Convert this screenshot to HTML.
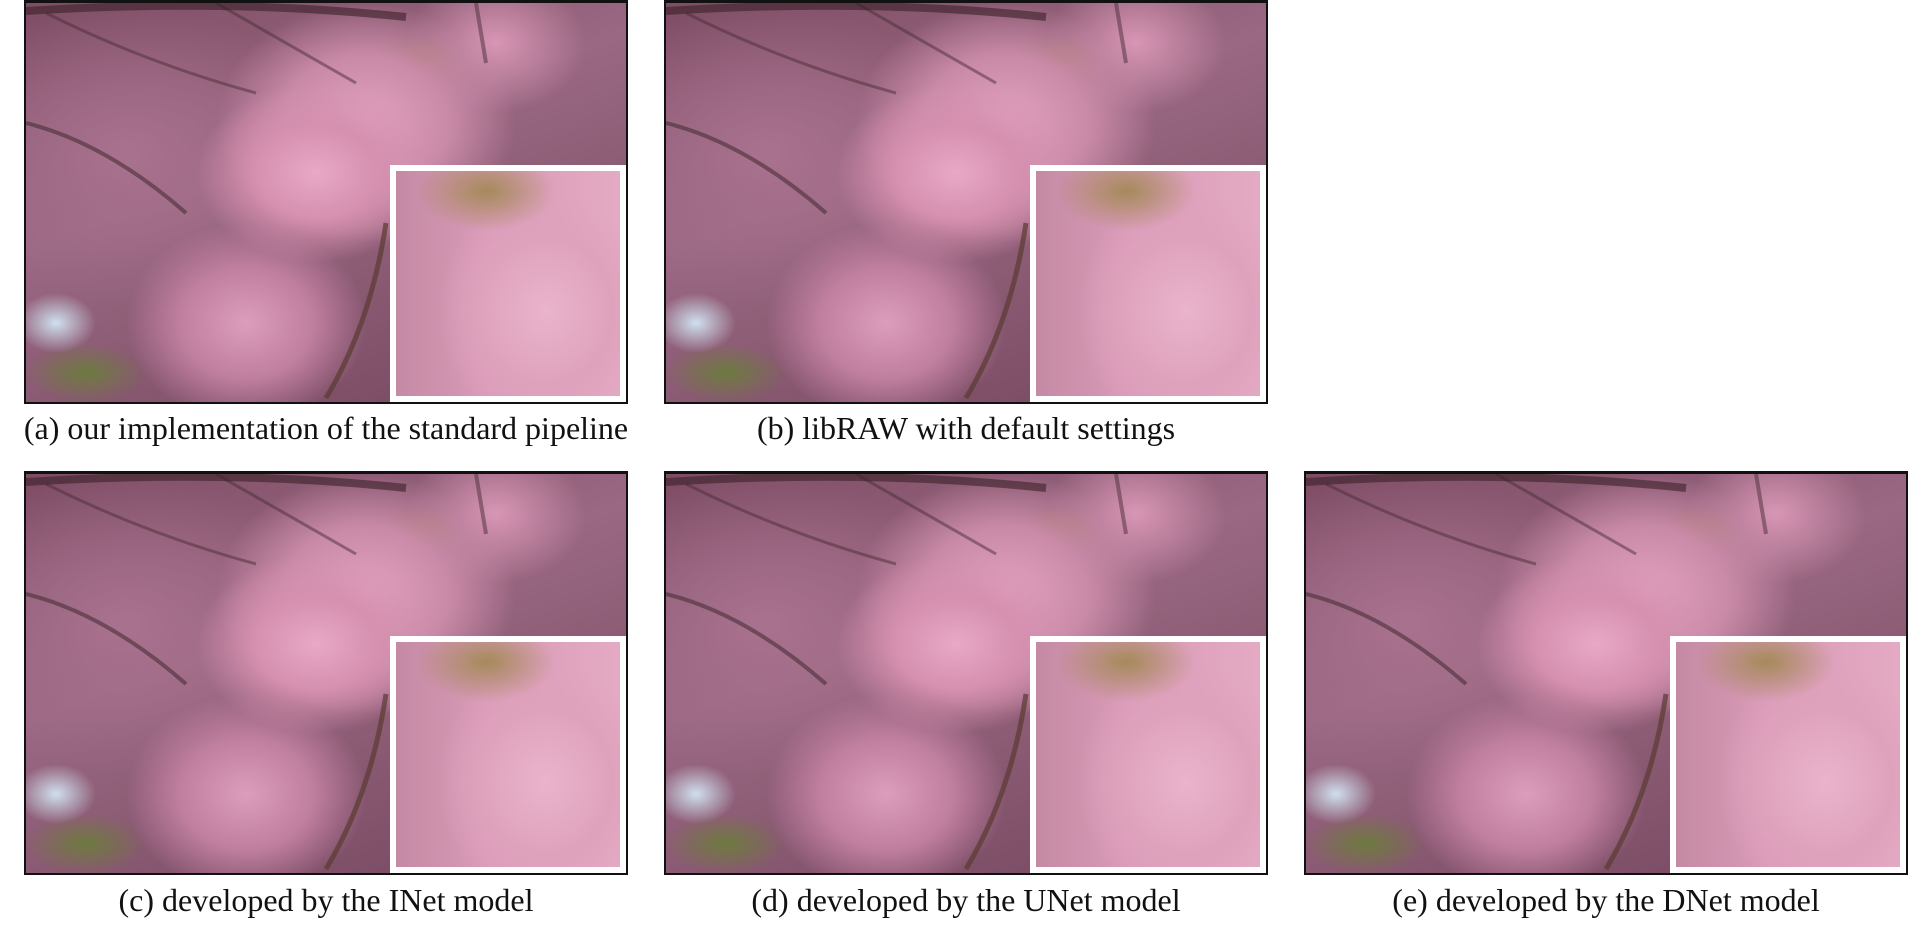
<!DOCTYPE html>
<html><head><meta charset="utf-8"><style>
html,body{margin:0;padding:0;background:#fff;width:1909px;height:935px;overflow:hidden;position:relative;font-family:"Liberation Serif",serif}
.panel{position:absolute;width:604px;height:404px;border:2px solid #111;border-top-width:3px;box-sizing:border-box;overflow:hidden;
background:
radial-gradient(ellipse 120px 90px at 290px 170px,#e8a9c6 0%,#d690b0 50%,rgba(200,130,160,0) 100%),
radial-gradient(ellipse 150px 120px at 340px 120px,#e2a2c0 0%,#c98aa8 55%,rgba(190,120,150,0) 100%),
radial-gradient(ellipse 120px 100px at 220px 320px,#dc9cbb 0%,#c07f9f 55%,rgba(180,110,140,0) 100%),
radial-gradient(ellipse 90px 70px at 470px 40px,#d896b5 0%,rgba(190,120,150,0) 100%),
radial-gradient(ellipse 40px 30px at 30px 320px,#cfe0ee 0%,rgba(200,220,235,0) 100%),
radial-gradient(ellipse 60px 30px at 60px 370px,#6d7a3e 0%,rgba(100,110,60,0) 100%),
radial-gradient(ellipse 50px 30px at 390px 60px,#8a6a3e 0%,rgba(130,100,60,0) 100%),
radial-gradient(ellipse 200px 150px at 100px 150px,#a9728f 0%,rgba(150,100,125,0) 100%),
linear-gradient(160deg,#7e4c64 0%,#9a6882 40%,#74465e 100%);}
.panel svg{position:absolute;left:0;top:0}
.inset{position:absolute;right:0;bottom:0;width:236px;height:237px;background:#fff;}
.inset div{position:absolute;left:6px;top:6px;right:6px;bottom:6px;
background:
radial-gradient(ellipse 70px 40px at 90px 20px,#a58a5a 0%,rgba(160,130,90,0) 100%),
radial-gradient(ellipse 110px 120px at 150px 140px,#eab4cc 0%,#dfa2bd 60%,rgba(215,155,180,0) 100%),
linear-gradient(90deg,#c48aa4 0%,#d99ab7 40%,#e4aac4 100%);}
.cap{position:absolute;font-size:32px;color:#111;white-space:nowrap;text-align:center;width:640px}
</style></head><body>
<div class="panel" style="left:24px;top:0"><div class="inset"><div></div></div></div>
<div class="panel" style="left:664px;top:0"><div class="inset"><div></div></div></div>
<div class="panel" style="left:24px;top:471px"><div class="inset"><div></div></div></div>
<div class="panel" style="left:664px;top:471px"><div class="inset"><div></div></div></div>
<div class="panel" style="left:1304px;top:471px"><div class="inset"><div></div></div></div>
<div class="cap" style="left:6px;top:410px">(a) our implementation of the standard pipeline</div>
<div class="cap" style="left:646px;top:410px">(b) libRAW with default settings</div>
<div class="cap" style="left:6px;top:882px">(c) developed by the INet model</div>
<div class="cap" style="left:646px;top:882px">(d) developed by the UNet model</div>
<div class="cap" style="left:1286px;top:882px">(e) developed by the DNet model</div>
<script>
document.querySelectorAll('.panel').forEach(function(p){
  var s=document.createElementNS('http://www.w3.org/2000/svg','svg');
  s.setAttribute('width','604');s.setAttribute('height','404');
  s.innerHTML='<path d="M0 120 Q80 140 160 210" stroke="#4a2e35" stroke-width="4" fill="none" opacity="0.6"/>'+
  '<path d="M20 10 Q120 60 230 90" stroke="#4a2e35" stroke-width="3" fill="none" opacity="0.5"/>'+
  '<path d="M190 0 Q260 40 330 80" stroke="#4a2e35" stroke-width="3" fill="none" opacity="0.5"/>'+
  '<path d="M450 0 L460 60" stroke="#4a2e35" stroke-width="4" fill="none" opacity="0.5"/>'+
  '<path d="M360 220 Q345 320 300 395" stroke="#5a3a30" stroke-width="5" fill="none" opacity="0.7"/>'+
  '<path d="M0 8 Q200 -5 380 14" stroke="#3a2228" stroke-width="8" fill="none" opacity="0.6"/>';
  p.insertBefore(s,p.firstChild);
});
</script>
</body></html>
